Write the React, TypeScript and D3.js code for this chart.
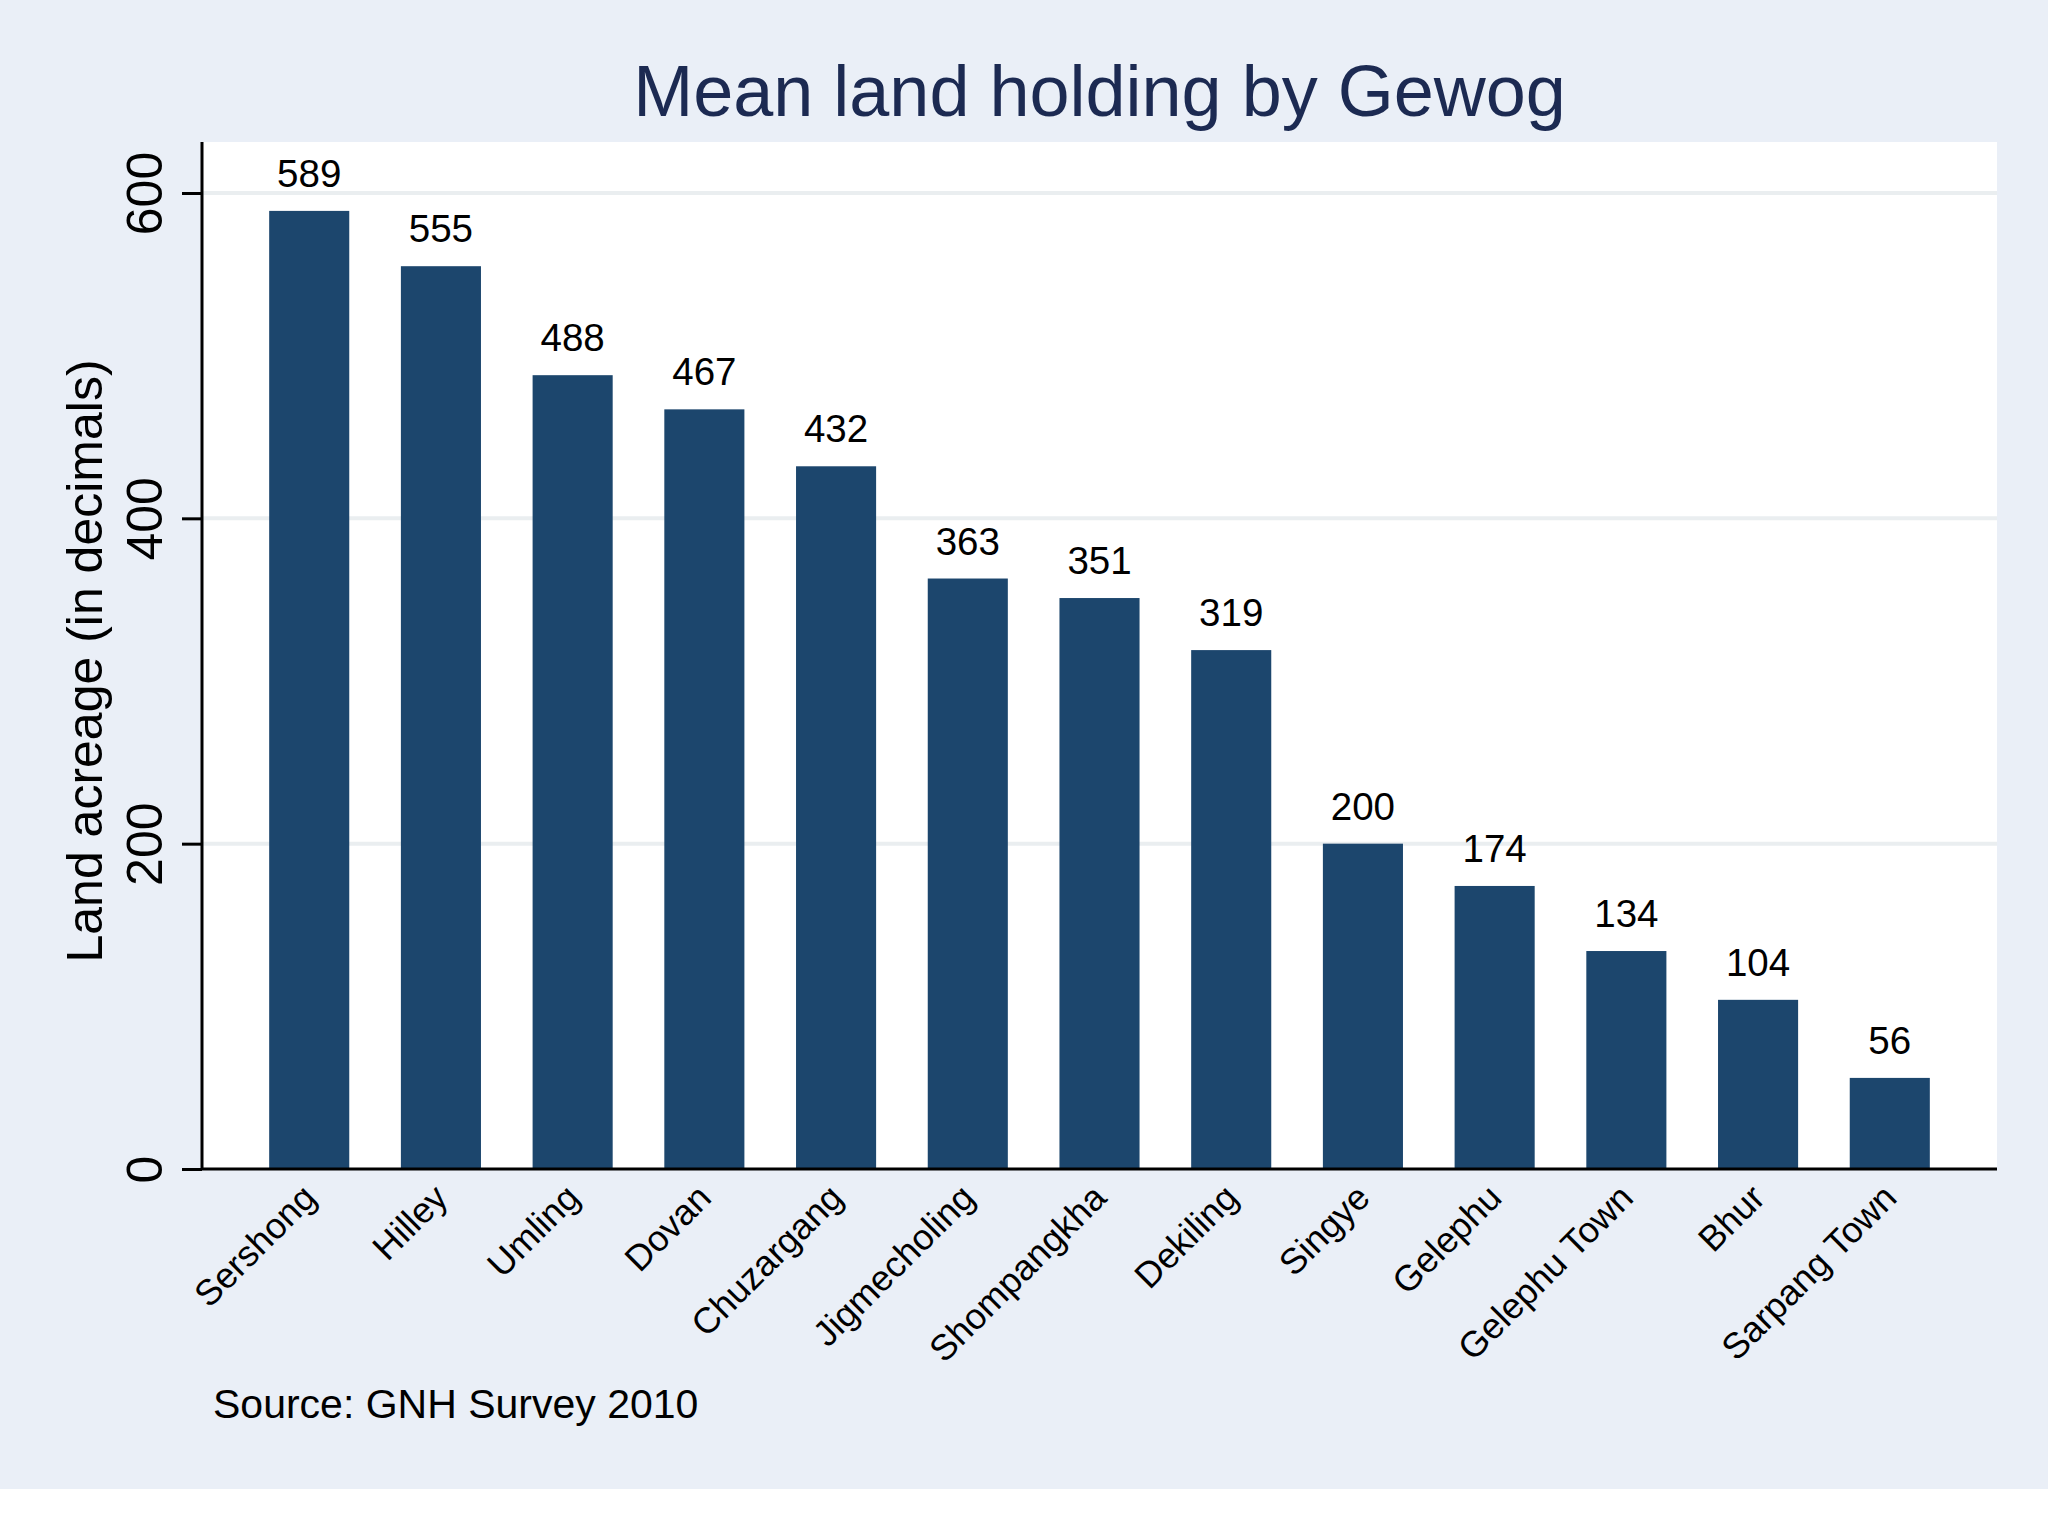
// App.tsx
import React, { useEffect, useRef } from 'react';
import * as d3 from 'd3';

const gewogs = [
    'Sershong', 'Hilley', 'Umling', 'Dovan', 'Chuzargang', 'Jigmecholing', 'Shompangkha',
    'Dekiling', 'Singye', 'Gelephu', 'Gelephu Town', 'Bhur', 'Sarpang Town'
];
const meanHolding = [589, 555, 488, 467, 432, 363, 351, 319, 200, 174, 134, 104, 56];
const yTicks = [0, 200, 400, 600];

const titleText = 'Mean land holding by Gewog';
const yTitleText = 'Land acreage (in decimals)';
const noteText = 'Source: GNH Survey 2010';

const FONT = '"Liberation Sans", Arial, Helvetica, sans-serif';

const App: React.FC = () => {
    const svgRef = useRef<SVGSVGElement | null>(null);

    useEffect(() => {
        drawChart();
    }, []);

    const drawChart = () => {
        d3.select(svgRef.current).selectAll('*').remove();

        const width = 2048;
        const height = 1536;
        // plot region edges
        const plot = { left: 202, right: 1997, top: 142, bottom: 1169 };

        const svg = d3.select(svgRef.current)
            .attr('width', width)
            .attr('height', height)
            .style('display', 'block');

        svg.append('rect')
            .attr('width', width)
            .attr('height', height)
            .attr('fill', '#ffffff');

        // graph region background
        svg.append('rect')
            .attr('width', width)
            .attr('height', 1489)
            .attr('fill', '#eaeff7');

        // plot region
        svg.append('rect')
            .attr('x', plot.left)
            .attr('y', plot.top)
            .attr('width', plot.right - plot.left)
            .attr('height', plot.bottom - plot.top)
            .attr('fill', '#ffffff');

        const x = d3.scaleBand()
            .domain(gewogs)
            .range([plot.left, plot.right])
            .paddingInner(0.392)
            .paddingOuter(0.51);

        const y = d3.scaleLinear()
            .domain([0, 600])
            .range([plot.bottom, 193]);

        // grid lines
        svg.append('g')
            .selectAll('line')
            .data(yTicks.filter(t => t > 0))
            .enter().append('line')
            .attr('x1', plot.left)
            .attr('x2', plot.right)
            .attr('y1', d => y(d))
            .attr('y2', d => y(d))
            .attr('stroke', '#eaeef0')
            .attr('stroke-width', 4);

        // bars
        svg.append('g')
            .selectAll('rect')
            .data(meanHolding)
            .enter().append('rect')
            .attr('x', (_, i) => x(gewogs[i]) || 0)
            .attr('y', d => y(d))
            .attr('width', x.bandwidth())
            .attr('height', d => y(0) - y(d))
            .attr('fill', '#1c466d');

        // value labels above bars
        svg.append('g')
            .selectAll('text')
            .data(meanHolding)
            .enter().append('text')
            .attr('x', (_, i) => (x(gewogs[i]) || 0) + x.bandwidth() / 2)
            .attr('y', d => y(d) - 24)
            .attr('text-anchor', 'middle')
            .attr('font-family', FONT)
            .attr('font-size', 38.5)
            .attr('fill', '#000000')
            .text(d => String(d));

        // y axis
        const yAxis = svg.append('g')
            .attr('transform', `translate(${plot.left},0)`)
            .call(d3.axisLeft(y).tickValues(yTicks).tickSize(20).tickSizeOuter(0).tickFormat(d3.format('d')));
        yAxis.select('.domain')
            .attr('d', `M0,${plot.top}V${plot.bottom}`)
            .attr('stroke', '#000000')
            .attr('stroke-width', 3);
        yAxis.selectAll('.tick line')
            .attr('stroke', '#000000')
            .attr('stroke-width', 3);
        yAxis.selectAll('.tick text')
            .attr('x', null)
            .attr('dy', null)
            .attr('transform', 'translate(-40,0) rotate(-90)')
            .attr('text-anchor', 'middle')
            .attr('font-family', FONT)
            .attr('font-size', 50)
            .attr('fill', '#000000');

        // x axis (labels only, no ticks)
        const xAxis = svg.append('g')
            .attr('transform', `translate(0,${plot.bottom})`)
            .call(d3.axisBottom(x).tickSize(0).tickSizeOuter(0));
        xAxis.select('.domain')
            .attr('d', `M${plot.left},0H${plot.right}`)
            .attr('stroke', '#000000')
            .attr('stroke-width', 3);
        xAxis.selectAll('.tick text')
            .attr('y', null)
            .attr('dy', '0.35em')
            .attr('transform', 'translate(0,22) rotate(-45)')
            .attr('text-anchor', 'end')
            .attr('font-family', FONT)
            .attr('font-size', 36)
            .attr('fill', '#000000');

        // y axis title
        svg.append('text')
            .attr('transform', `translate(102,661) rotate(-90)`)
            .attr('text-anchor', 'middle')
            .attr('font-family', FONT)
            .attr('font-size', 50)
            .attr('fill', '#000000')
            .text(yTitleText);

        // title
        svg.append('text')
            .attr('x', (plot.left + plot.right) / 2)
            .attr('y', 116)
            .attr('text-anchor', 'middle')
            .attr('font-family', FONT)
            .attr('font-size', 72)
            .attr('fill', '#1c2a52')
            .text(titleText);

        // source note
        svg.append('text')
            .attr('x', 213)
            .attr('y', 1418)
            .attr('font-family', FONT)
            .attr('font-size', 41)
            .attr('fill', '#000000')
            .text(noteText);
    };

    return (
        <div style={{ position: 'absolute', left: 0, top: 0 }}>
            <svg ref={svgRef}></svg>
        </div>
    );
};

export default App;
